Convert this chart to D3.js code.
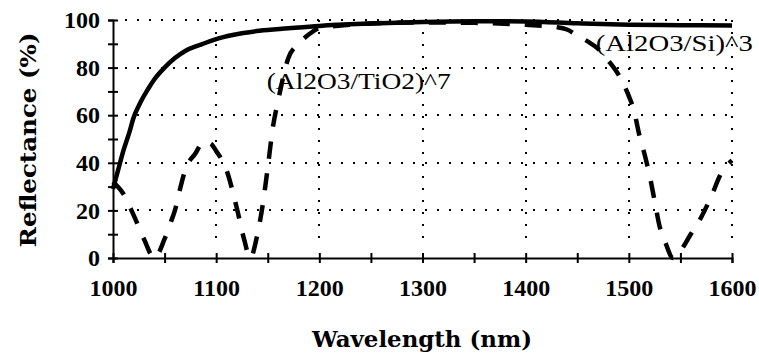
<!DOCTYPE html>
<html>
<head>
<meta charset="utf-8">
<script src="https://cdn.jsdelivr.net/npm/d3@7"></script>
<style>
	body { margin: 0; background: #fff; }
</style>
</head>
<body>
<script>
// wavelength (nm) and reflectance (%)
var solidWl = [1000, 1005, 1010, 1016, 1020, 1025, 1034, 1040, 1050, 1060, 1070, 1084, 1100, 1116, 1142, 1170, 1200, 1250, 1300, 1350, 1400, 1450, 1500, 1550, 1600];
var solidR  = [29, 37, 45, 53, 59, 64, 71, 75, 80, 84, 87, 89.5, 92, 93.7, 95.5, 96.5, 97.5, 98.5, 99.2, 99.5, 99.4, 98.6, 98, 97.8, 97.7];

var dashWl = [1000, 1010, 1020, 1030, 1040, 1050, 1056, 1060, 1065, 1070, 1080, 1088, 1095, 1100, 1110, 1120, 1127, 1133,
	1140, 1145, 1150, 1155, 1160, 1170, 1180, 1190, 1200, 1250, 1300, 1350, 1400, 1430, 1440, 1450, 1460, 1470, 1480, 1490,
	1500, 1505, 1510, 1515, 1520, 1525, 1530, 1535, 1543, 1550, 1560, 1570, 1580, 1590, 1600];
var dashR  = [32, 27, 18, 8, 0, 8, 15, 20, 29, 37, 44, 49, 48, 45, 37, 21, 8, 0,
	10, 22, 38, 55, 66, 84, 90, 94, 96.5, 98.5, 99, 98.8, 98, 97, 96, 93.5, 91, 88, 83, 77,
	68, 62, 52, 44, 35, 24, 13, 7, 0, 3, 10, 17, 26, 36, 41];

var xTicks = [1000, 1100, 1200, 1300, 1400, 1500, 1600];
var yTicks = [0, 20, 40, 60, 80, 100];

var labels = [
	{ text: "(Al2O3/TiO2)^7", wl: 1149, r: 71, len: 184 },
	{ text: "(Al2O3/Si)^3", wl: 1468, r: 87, len: 157 }
];

var width = 759, height = 356;
var serif = '"Liberation Serif", "Times New Roman", serif';
var wideSerif = '"DejaVu Serif", serif';

var svg = d3.select('body').append('svg')
	.attr('width', width)
	.attr('height', height);

var x = d3.scaleLinear()
	.domain([1000, 1600])
	.range([113, 732]);

var y = d3.scaleLinear()
	.domain([0, 100])
	.range([258, 20]);

// dotted grid
var grid = svg.append('g')
	.attr('stroke', '#000')
	.attr('stroke-width', 2)
	.attr('stroke-dasharray', '2,10')
	.attr('shape-rendering', 'crispEdges');

grid.selectAll('.hgrid')
	.data(yTicks.slice(1))
	.enter().append('line')
	.attr('class', 'hgrid')
	.attr('x1', x(1000) + 12)
	.attr('x2', x(1600))
	.attr('y1', function (d) { return y(d); })
	.attr('y2', function (d) { return y(d); });

grid.selectAll('.vgrid')
	.data(xTicks.slice(1))
	.enter().append('line')
	.attr('class', 'vgrid')
	.attr('x1', function (d) { return x(d); })
	.attr('x2', function (d) { return x(d); })
	.attr('y1', y(100))
	.attr('y2', y(0) - 10);

// axes, ticks cross the axis line
var xAxis = d3.axisBottom(x)
	.tickValues(d3.range(1000, 1601, 50))
	.tickSizeOuter(0)
	.tickSize(5)
	.tickPadding(16)
	.tickFormat(function (d) { return d % 100 ? '' : d; });

var yAxis = d3.axisLeft(y)
	.tickValues(d3.range(0, 101, 10))
	.tickSizeOuter(0)
	.tickSize(5)
	.tickPadding(10)
	.tickFormat(function (d) { return d % 20 ? '' : d; });

var gx = svg.append('g')
	.attr('transform', 'translate(0,' + y(0) + ')')
	.call(xAxis);

var gy = svg.append('g')
	.attr('transform', 'translate(' + x(1000) + ',0)')
	.call(yAxis);

[gx, gy].forEach(function (g) {
	g.select('.domain').attr('stroke', '#000').attr('stroke-width', 2);
	g.selectAll('.tick line').attr('stroke', '#000').attr('stroke-width', 2);
	g.selectAll('.tick text')
		.attr('fill', '#000')
		.style('font-family', serif)
		.style('font-size', '24px')
		.style('font-weight', 'bold');
});
gx.selectAll('.tick line').attr('y1', -5).attr('y2', 5);
gy.selectAll('.tick line').attr('x1', -5).attr('x2', 5);
gy.selectAll('.tick text').attr('x', -13);

// curves
var line = d3.line()
	.x(function (d) { return x(d[0]); })
	.y(function (d) { return y(d[1]); })
	.curve(d3.curveMonotoneX);

svg.append('path')
	.datum(d3.zip(dashWl, dashR))
	.attr('fill', 'none')
	.attr('stroke', '#000')
	.attr('stroke-width', 4.5)
	.attr('stroke-dasharray', '17,15')
	.attr('d', line);

svg.append('path')
	.datum(d3.zip(solidWl, solidR))
	.attr('fill', 'none')
	.attr('stroke', '#000')
	.attr('stroke-width', 4.5)
	.attr('d', line);

// series labels
svg.selectAll('.label')
	.data(labels)
	.enter().append('text')
	.attr('class', 'label')
	.attr('x', function (d) { return x(d.wl); })
	.attr('y', function (d) { return y(d.r); })
	.attr('textLength', function (d) { return d.len; })
	.attr('lengthAdjust', 'spacingAndGlyphs')
	.style('font-family', serif)
	.style('font-size', '23px')
	.text(function (d) { return d.text; });

// axis titles
svg.append('text')
	.attr('x', 422)
	.attr('y', 347)
	.attr('text-anchor', 'middle')
	.attr('textLength', 220)
	.attr('lengthAdjust', 'spacingAndGlyphs')
	.style('font-family', wideSerif)
	.style('font-size', '23px')
	.style('font-weight', 'bold')
	.text('Wavelength (nm)');

svg.append('text')
	.attr('transform', 'translate(36,140) rotate(-90)')
	.attr('text-anchor', 'middle')
	.attr('textLength', 215)
	.attr('lengthAdjust', 'spacingAndGlyphs')
	.style('font-family', wideSerif)
	.style('font-size', '23px')
	.style('font-weight', 'bold')
	.text('Reflectance (%)');
</script>
</body>
</html>
